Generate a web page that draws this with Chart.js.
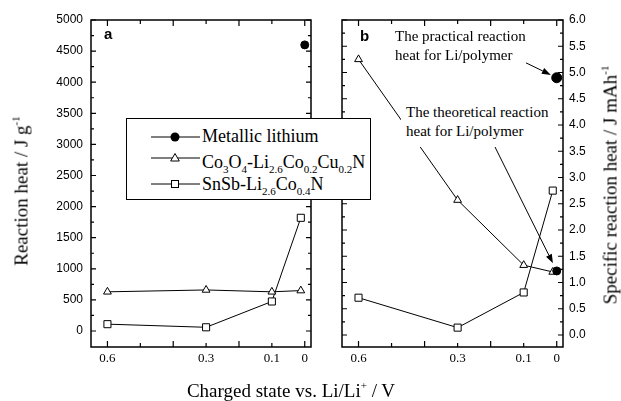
<!DOCTYPE html>
<html>
<head>
<meta charset="utf-8">
<script src="https://cdn.jsdelivr.net/npm/chart.js@4.4.1/dist/chart.umd.min.js"></script>
<style>
  body { margin: 0; background: #fff; }
  #wrap { position: relative; width: 621px; height: 401px; font-family: 'Liberation Serif', 'Times New Roman', serif; color: #000; }
  canvas { position: absolute; top: 0; }
  .title { position: absolute; font-size: 19px; white-space: nowrap; line-height: 19px; }
  .title sup { font-size: 11px; line-height: 0; vertical-align: 8px; }
  .rot { transform: translate(-50%, -50%) rotate(-90deg); }
  .panel { position: absolute; font: bold 15px 'Liberation Sans', Arial, sans-serif; line-height: 15px; }
  #legend { position: absolute; left: 126px; top: 118px; width: 243px; height: 80px; border: 1.3px solid #000; background: #fff; }
  #legend svg { position: absolute; left: 24px; }
  #legend .lbl { position: absolute; left: 75px; font-family: 'Liberation Serif', 'Times New Roman', serif; font-size: 18px; line-height: 18px; white-space: nowrap; }
  #legend sub { font-size: 11px; line-height: 0; vertical-align: -5px; }
  .note { position: absolute; font-size: 15px; line-height: 19px; white-space: nowrap; background: #fff; }
</style>
</head>
<body>
<div id="wrap">
  <canvas id="heatChart" width="330" height="401" style="left:0"></canvas>
  <canvas id="specChart" width="291" height="401" style="left:330px"></canvas>

  <div class="panel" style="left:104px; top:26px">a</div>
  <div class="panel" style="left:360px; top:28px">b</div>

  <div class="title rot" style="left:21px; top:191px">Reaction heat / J g<sup>-1</sup></div>
  <div class="title rot" style="left:610px; top:185px">Specific reaction heat / J mAh<sup>-1</sup></div>
  <div class="title" style="left:291px; top:381px; transform: translateX(-50%)">Charged state vs. Li/Li<sup>+</sup> / V</div>

  <div class="note" style="left:395px; top:27px">The practical reaction<br>heat for Li/polymer</div>
  <div class="note" style="left:401px; top:103px; padding: 0 4px 6px 5px">The theoretical reaction<br>heat for Li/polymer</div>

  <div id="legend">
    <svg width="52" height="12" style="top:12px">
      <line x1="0" y1="6" x2="49" y2="6" stroke="#000" stroke-width="1"/>
      <circle cx="24" cy="6" r="4.5" fill="#000"/>
    </svg>
    <div class="lbl" style="top:8px">Metallic lithium</div>
    <svg width="52" height="12" style="top:33px">
      <line x1="0" y1="6" x2="49" y2="6" stroke="#000" stroke-width="1"/>
      <polygon points="24,1.5 28.3,9 19.7,9" fill="#fff" stroke="#000" stroke-width="1"/>
    </svg>
    <div class="lbl" style="top:34px">Co<sub>3</sub>O<sub>4</sub>-Li<sub>2.6</sub>Co<sub>0.2</sub>Cu<sub>0.2</sub>N</div>
    <svg width="52" height="12" style="top:59px">
      <line x1="0" y1="6" x2="49" y2="6" stroke="#000" stroke-width="1"/>
      <rect x="20.5" y="2.5" width="7" height="7" fill="#fff" stroke="#000" stroke-width="1"/>
    </svg>
    <div class="lbl" style="top:56px">SnSb-Li<sub>2.6</sub>Co<sub>0.4</sub>N</div>
  </div>
</div>

<script>
// charged state (V vs. Li/Li+) of each measured electrode
const potentials = [0.6, 0.3, 0.1, 0.012];
const liPotential = [0];

// (a) reaction heat, J/g
const heatCoCu = [630, 660, 630, 650];
const heatSnSb = [110, 60, 475, 1820];
const heatLiMetal = [4600];

// (b) specific reaction heat, J/mAh
const specCoCu = [5.25, 2.57, 1.33, 1.2];
const specSnSb = [0.71, 0.14, 0.81, 2.75];
const specLiPractical = [4.9];
const specLiTheoretical = [1.22];

// axis ticks
const xTickValues = [0.6, 0.5, 0.4, 0.3, 0.2, 0.1, 0];
const xTickLabels = ['0.6', '', '', '0.3', '', '0.1', '0'];
const xMajor = [0.6, 0.4, 0.2, 0];
const xMinor = [0.5, 0.3, 0.1];
const heatTicks = [0, 500, 1000, 1500, 2000, 2500, 3000, 3500, 4000, 4500, 5000];
const heatMinor = [250, 750, 1250, 1750, 2250, 2750, 3250, 3750, 4250, 4750];
const specTicks = [0, 0.5, 1, 1.5, 2, 2.5, 3, 3.5, 4, 4.5, 5, 5.5, 6];
const specMinor = [0.25, 0.75, 1.25, 1.75, 2.25, 2.75, 3.25, 3.75, 4.25, 4.75, 5.25, 5.75];

function toPoints(xs, ys) {
    return xs.map((x, i) => ({ x: x, y: ys[i] }));
}

// frame round the plot area with inward tick marks on all four sides
const frameTicks = {
    id: 'frameTicks',
    afterDraw(chart, args, opts) {
        const ctx = chart.ctx;
        const a = chart.chartArea;
        const xs = chart.scales.x;
        const ys = chart.scales.y;
        ctx.save();
        ctx.strokeStyle = '#000';
        ctx.lineWidth = 1.5;
        ctx.strokeRect(a.left, a.top, a.right - a.left, a.bottom - a.top);
        ctx.lineWidth = 1.2;
        ctx.beginPath();
        const vTick = (vals, len) => vals.forEach(v => {
            const px = xs.getPixelForValue(v);
            ctx.moveTo(px, a.bottom); ctx.lineTo(px, a.bottom - len);
            ctx.moveTo(px, a.top); ctx.lineTo(px, a.top + len);
        });
        const hTick = (vals, len) => vals.forEach(v => {
            const py = ys.getPixelForValue(v);
            ctx.moveTo(a.left, py); ctx.lineTo(a.left + len, py);
            ctx.moveTo(a.right, py); ctx.lineTo(a.right - len, py);
        });
        vTick(opts.xMajor, 6);
        vTick(opts.xMinor, 4);
        hTick(opts.yMajor, 5);
        hTick(opts.yMinor, 3);
        ctx.stroke();
        ctx.restore();
    }
};

// arrows from the notes to the Li/polymer points
const noteArrows = {
    id: 'noteArrows',
    afterDatasetsDraw(chart, args, opts) {
        const ctx = chart.ctx;
        ctx.save();
        ctx.strokeStyle = '#000';
        ctx.fillStyle = '#000';
        ctx.lineWidth = 1;
        opts.items.forEach(item => {
            const tx = chart.scales.x.getPixelForValue(item.to.x);
            const ty = chart.scales.y.getPixelForValue(item.to.y);
            const dx = tx - item.from[0];
            const dy = ty - item.from[1];
            const len = Math.hypot(dx, dy);
            const ux = dx / len, uy = dy / len;
            const ex = tx - ux * item.back;
            const ey = ty - uy * item.back;
            const hl = 9, hw = 3.2;
            ctx.beginPath();
            ctx.moveTo(item.from[0], item.from[1]);
            ctx.lineTo(ex - ux * hl, ey - uy * hl);
            ctx.stroke();
            ctx.beginPath();
            ctx.moveTo(ex, ey);
            ctx.lineTo(ex - ux * hl - uy * hw, ey - uy * hl + ux * hw);
            ctx.lineTo(ex - ux * hl + uy * hw, ey - uy * hl - ux * hw);
            ctx.closePath();
            ctx.fill();
        });
        ctx.restore();
    }
};

const serifTicks = { family: "'Liberation Serif', 'Times New Roman', serif", size: 13 };
const sansTicks = { family: "'Liberation Sans', Arial, sans-serif", size: 12 };

function xScale() {
    return {
        type: 'linear',
        reverse: true,
        min: -0.019,
        max: 0.65,
        grid: { display: false, drawTicks: false },
        border: { display: false },
        afterBuildTicks: s => { s.ticks = xTickValues.map(v => ({ value: v })); },
        afterFit: s => { s.height = 54; },
        ticks: {
            autoSkip: false,
            maxRotation: 0,
            padding: 4,
            color: '#000',
            font: serifTicks,
            callback: (v, i) => xTickLabels[i]
        }
    };
}

function series(label, data, style, radius) {
    return {
        label: label,
        data: data,
        showLine: true,
        borderColor: '#000',
        borderWidth: 1,
        pointStyle: style,
        pointRadius: radius,
        pointBackgroundColor: '#fff',
        pointBorderColor: '#000',
        pointBorderWidth: 1
    };
}

function liPoint(label, data, radius) {
    return {
        label: label,
        data: data,
        showLine: false,
        pointStyle: 'circle',
        pointRadius: radius,
        pointBackgroundColor: '#000',
        pointBorderColor: '#000'
    };
}

const common = {
    responsive: false,
    animation: false,
    events: []
};

// (a) reaction heat per gram
new Chart(document.getElementById('heatChart').getContext('2d'), {
    type: 'scatter',
    data: {
        datasets: [
            liPoint('Metallic lithium', toPoints(liPotential, heatLiMetal), 4),
            series('Co3O4-Li2.6Co0.2Cu0.2N', toPoints(potentials, heatCoCu), 'triangle', 4.5),
            series('SnSb-Li2.6Co0.4N', toPoints(potentials, heatSnSb), 'rect', 5)
        ]
    },
    options: Object.assign({}, common, {
        layout: { padding: { top: 20, right: 19, bottom: 0, left: 0 } },
        scales: {
            x: xScale(),
            y: {
                min: -257,
                max: 5000,
                grid: { display: false, drawTicks: false },
                border: { display: false },
                afterBuildTicks: s => { s.ticks = heatTicks.map(v => ({ value: v })); },
                afterFit: s => { s.width = 91; },
                ticks: { padding: 8, color: '#000', font: sansTicks, callback: v => String(v) }
            }
        },
        plugins: {
            legend: { display: false },
            tooltip: { enabled: false },
            frameTicks: { xMajor: xMajor, xMinor: xMinor, yMajor: heatTicks, yMinor: heatMinor }
        }
    }),
    plugins: [frameTicks]
});

// (b) specific reaction heat per mAh
new Chart(document.getElementById('specChart').getContext('2d'), {
    type: 'scatter',
    data: {
        datasets: [
            liPoint('Practical Li/polymer', toPoints(liPotential, specLiPractical), 5),
            liPoint('Theoretical Li/polymer', toPoints(liPotential, specLiTheoretical), 4),
            series('Co3O4-Li2.6Co0.2Cu0.2N', toPoints(potentials, specCoCu), 'triangle', 4.5),
            series('SnSb-Li2.6Co0.4N', toPoints(potentials, specSnSb), 'rect', 5)
        ]
    },
    options: Object.assign({}, common, {
        layout: { padding: { top: 20, right: 0, bottom: 0, left: 12 } },
        scales: {
            x: xScale(),
            y: {
                position: 'right',
                min: -0.229,
                max: 6,
                grid: { display: false, drawTicks: false },
                border: { display: false },
                afterBuildTicks: s => { s.ticks = specTicks.map(v => ({ value: v })); },
                afterFit: s => { s.width = 58; },
                ticks: { padding: 6, color: '#000', font: sansTicks, callback: v => v.toFixed(1) }
            }
        },
        plugins: {
            legend: { display: false },
            tooltip: { enabled: false },
            frameTicks: { xMajor: xMajor, xMinor: xMinor, yMajor: specTicks, yMinor: specMinor },
            noteArrows: {
                items: [
                    { from: [183.3, 56.7], to: { x: liPotential[0], y: specLiPractical[0] }, back: 6.5 },
                    { from: [165, 147], to: { x: liPotential[0], y: specLiTheoretical[0] }, back: 8.5 }
                ]
            }
        }
    }),
    plugins: [frameTicks, noteArrows]
});
</script>
</body>
</html>
